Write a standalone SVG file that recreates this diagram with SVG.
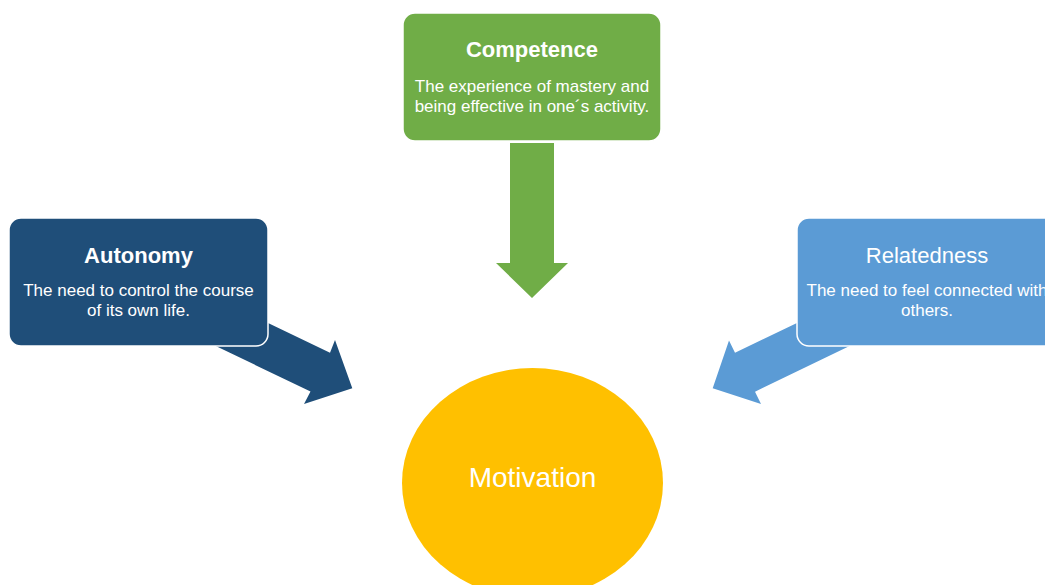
<svg xmlns="http://www.w3.org/2000/svg" width="1045" height="585" viewBox="0 0 1045 585">
<style>
.box{stroke:#ffffff;stroke-width:1.5}
.t{font-family:"Liberation Sans",Arial,sans-serif;fill:#ffffff;text-anchor:middle}
.title{font-size:22px;font-weight:bold}
.desc{font-size:17px}
</style>
<rect width="1045" height="585" fill="#ffffff"/>
<g id="connectors">
<polygon fill="#70AD47" points="510,143 554,143 554,263 568,263 532,298 496,263 510,263"/>
<polygon fill="#1F4E79" points="193,287 330,352.7 335,340 352.3,388.3 304,404 310.5,391.5 175.5,326.7"/>
<polygon fill="#5B9BD5" points="872,287 735,352.7 729,340.5 712.7,388.3 761,404 755,391.7 889.5,326.7"/>
</g>
<g id="competence">
<rect class="box" x="403" y="13" width="258" height="128" rx="12" fill="#70AD47"/>
<text class="t title" x="532" y="57">Competence</text>
<text class="t desc" x="532" y="92">The experience of mastery and</text>
<text class="t desc" x="532" y="112">being effective in one´s activity.</text>
</g>
<g id="autonomy">
<rect class="box" x="9" y="218" width="259" height="128" rx="12" fill="#1F4E79"/>
<text class="t title" x="138.5" y="263">Autonomy</text>
<text class="t desc" x="138.5" y="296">The need to control the course</text>
<text class="t desc" x="138.5" y="316">of its own life.</text>
</g>
<g id="relatedness">
<rect class="box" x="797" y="218" width="260" height="128" rx="12" fill="#5B9BD5"/>
<text class="t" x="927" y="263" font-size="22px">Relatedness</text>
<text class="t desc" x="927" y="296">The need to feel connected with</text>
<text class="t desc" x="927" y="316">others.</text>
</g>
<g id="motivation">
<ellipse cx="532.5" cy="483" rx="130.5" ry="115" fill="#FFC000"/>
<text class="t" x="532.5" y="487" font-size="28px">Motivation</text>
</g>
</svg>
